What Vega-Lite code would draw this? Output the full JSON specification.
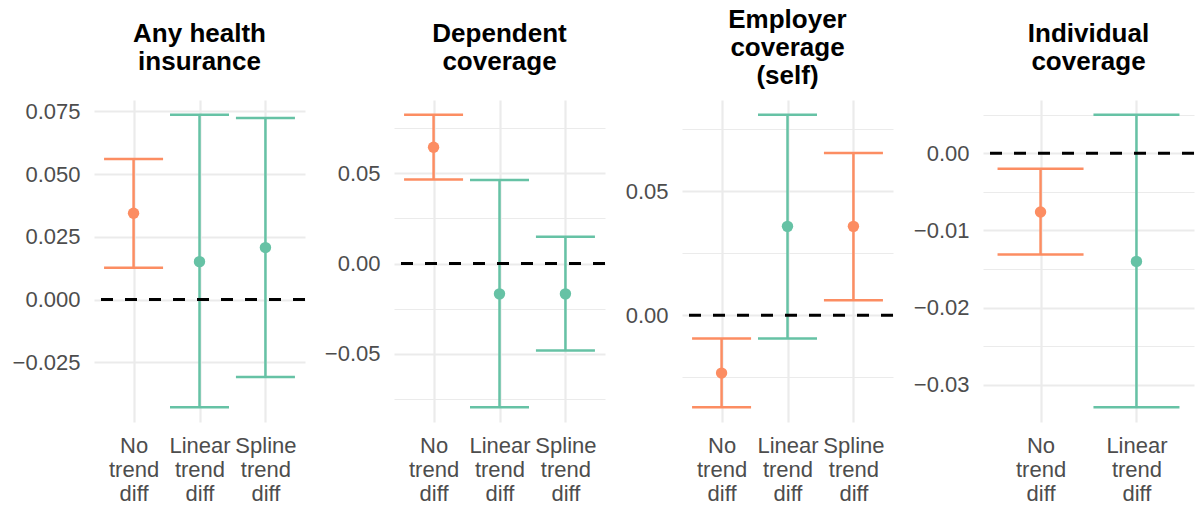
{
  "$schema": "https://vega.github.io/schema/vega-lite/v6.json",
  "background": "white",
  "padding": {"left": 8, "top": 7, "right": 5, "bottom": 0},
  "datasets": {
    "est": [
      {"outcome": "any", "model": "No trend diff", "est": 0.0344, "lo": 0.0127, "hi": 0.0560, "sig": "Significant"},
      {"outcome": "any", "model": "Linear trend diff", "est": 0.0151, "lo": -0.0430, "hi": 0.0737, "sig": "Not significant"},
      {"outcome": "any", "model": "Spline trend diff", "est": 0.0207, "lo": -0.0309, "hi": 0.0724, "sig": "Not significant"},
      {"outcome": "dep", "model": "No trend diff", "est": 0.0644, "lo": 0.0465, "hi": 0.0825, "sig": "Significant"},
      {"outcome": "dep", "model": "Linear trend diff", "est": -0.0168, "lo": -0.0797, "hi": 0.0463, "sig": "Not significant"},
      {"outcome": "dep", "model": "Spline trend diff", "est": -0.0168, "lo": -0.0482, "hi": 0.0148, "sig": "Not significant"},
      {"outcome": "emp", "model": "No trend diff", "est": -0.0233, "lo": -0.0371, "hi": -0.0094, "sig": "Significant"},
      {"outcome": "emp", "model": "Linear trend diff", "est": 0.0358, "lo": -0.0094, "hi": 0.0808, "sig": "Not significant"},
      {"outcome": "emp", "model": "Spline trend diff", "est": 0.0358, "lo": 0.0060, "hi": 0.0654, "sig": "Significant"},
      {"outcome": "ind", "model": "No trend diff", "est": -0.0076, "lo": -0.0131, "hi": -0.0020, "sig": "Significant"},
      {"outcome": "ind", "model": "Linear trend diff", "est": -0.0140, "lo": -0.0329, "hi": 0.0050, "sig": "Not significant"}
    ]
  },
  "data": {"name": "est"},
  "spacing": 15,
  "hconcat": [
    {
      "width": 211, "height": 322,
      "title": {"text": ["\u200b", "Any health", "\u200b", "insurance", "\u200b"], "lineHeight": 14},
      "transform": [{"filter": "datum.outcome === 'any'"}],
      "layer": [
        {
          "mark": {"type": "rule", "strokeWidth": 2.5},
          "encoding": {
            "x": {"field": "model", "type": "nominal", "title": null, "scale": {"type": "point", "padding": 0.6, "domain": ["No trend diff", "Linear trend diff", "Spline trend diff"]}, "axis": {"labelExpr": "split(datum.label, ' ')", "labelAngle": 0, "labelLineHeight": 24, "labelPadding": 13, "grid": true, "gridWidth": 2.2}},
            "y": {"field": "lo", "type": "quantitative", "title": null, "scale": {"domain": [-0.04884, 0.07954], "nice": false, "zero": false}, "axis": {"values": [-0.025, 0, 0.025, 0.05, 0.075], "format": ".3f", "labelOverlap": false, "gridWidth": 2.2, "labelPadding": 14, "minExtent": 86, "maxExtent": 86}},
            "y2": {"field": "hi"},
            "color": {"field": "sig", "type": "nominal", "scale": {"domain": ["Significant", "Not significant"], "range": ["#FC8D62", "#66C2A5"]}, "legend": null}
          }
        },
        {
          "mark": {"type": "tick", "thickness": 2.5, "size": 59, "opacity": 1},
          "encoding": {
            "x": {"field": "model", "type": "nominal", "title": null},
            "y": {"field": "lo", "type": "quantitative", "title": null},
            "color": {"field": "sig", "type": "nominal", "legend": null}
          }
        },
        {
          "mark": {"type": "tick", "thickness": 2.5, "size": 59, "opacity": 1},
          "encoding": {
            "x": {"field": "model", "type": "nominal", "title": null},
            "y": {"field": "hi", "type": "quantitative", "title": null},
            "color": {"field": "sig", "type": "nominal", "legend": null}
          }
        },
        {
          "mark": {"type": "point", "filled": true, "size": 130, "opacity": 1},
          "encoding": {
            "x": {"field": "model", "type": "nominal", "title": null},
            "y": {"field": "est", "type": "quantitative", "title": null},
            "color": {"field": "sig", "type": "nominal", "legend": null}
          }
        },
        {
          "data": {"values": [{}]},
          "mark": {"type": "rule", "strokeDash": [12, 12], "strokeWidth": 3, "color": "#000000"},
          "encoding": {"y": {"datum": 0}}
        }
      ]
    },
    {
      "width": 211, "height": 322,
      "title": {"text": ["\u200b", "Dependent", "\u200b", "coverage", "\u200b"], "lineHeight": 14},
      "transform": [{"filter": "datum.outcome === 'dep'"}],
      "layer": [
        {
          "mark": {"type": "rule", "strokeWidth": 2.5},
          "encoding": {
            "x": {"field": "model", "type": "nominal", "title": null, "scale": {"type": "point", "padding": 0.6, "domain": ["No trend diff", "Linear trend diff", "Spline trend diff"]}, "axis": {"labelExpr": "split(datum.label, ' ')", "labelAngle": 0, "labelLineHeight": 24, "labelPadding": 13, "grid": true, "gridWidth": 2.2}},
            "y": {"field": "lo", "type": "quantitative", "title": null, "scale": {"domain": [-0.08781, 0.09061], "nice": false, "zero": false}, "axis": {"values": [-0.075, -0.05, -0.025, 0, 0.025, 0.05, 0.075], "format": ".2f", "labelOverlap": false, "labelExpr": "round(datum.value*10000) % 500 == 0 ? datum.label : ''", "gridWidth": {"condition": {"test": "round(datum.value*10000) % 500 != 0", "value": 1.1}, "value": 2.2}, "labelPadding": 14, "minExtent": 72, "maxExtent": 72}},
            "y2": {"field": "hi"},
            "color": {"field": "sig", "type": "nominal", "scale": {"domain": ["Significant", "Not significant"], "range": ["#FC8D62", "#66C2A5"]}, "legend": null}
          }
        },
        {
          "mark": {"type": "tick", "thickness": 2.5, "size": 59, "opacity": 1},
          "encoding": {
            "x": {"field": "model", "type": "nominal", "title": null},
            "y": {"field": "lo", "type": "quantitative", "title": null},
            "color": {"field": "sig", "type": "nominal", "legend": null}
          }
        },
        {
          "mark": {"type": "tick", "thickness": 2.5, "size": 59, "opacity": 1},
          "encoding": {
            "x": {"field": "model", "type": "nominal", "title": null},
            "y": {"field": "hi", "type": "quantitative", "title": null},
            "color": {"field": "sig", "type": "nominal", "legend": null}
          }
        },
        {
          "mark": {"type": "point", "filled": true, "size": 130, "opacity": 1},
          "encoding": {
            "x": {"field": "model", "type": "nominal", "title": null},
            "y": {"field": "est", "type": "quantitative", "title": null},
            "color": {"field": "sig", "type": "nominal", "legend": null}
          }
        },
        {
          "data": {"values": [{}]},
          "mark": {"type": "rule", "strokeDash": [12, 12], "strokeWidth": 3, "color": "#000000"},
          "encoding": {"y": {"datum": 0}}
        }
      ]
    },
    {
      "width": 211, "height": 322,
      "title": {"text": ["Employer", "coverage", "(self)"], "lineHeight": 28},
      "transform": [{"filter": "datum.outcome === 'emp'"}],
      "layer": [
        {
          "mark": {"type": "rule", "strokeWidth": 2.5},
          "encoding": {
            "x": {"field": "model", "type": "nominal", "title": null, "scale": {"type": "point", "padding": 0.6, "domain": ["No trend diff", "Linear trend diff", "Spline trend diff"]}, "axis": {"labelExpr": "split(datum.label, ' ')", "labelAngle": 0, "labelLineHeight": 24, "labelPadding": 13, "grid": true, "gridWidth": 2.2}},
            "y": {"field": "lo", "type": "quantitative", "title": null, "scale": {"domain": [-0.0430, 0.0867], "nice": false, "zero": false}, "axis": {"values": [-0.025, 0, 0.025, 0.05, 0.075], "format": ".2f", "labelOverlap": false, "labelExpr": "round(datum.value*10000) % 500 == 0 ? datum.label : ''", "gridWidth": {"condition": {"test": "round(datum.value*10000) % 500 != 0", "value": 1.1}, "value": 2.2}, "labelPadding": 14, "minExtent": 60, "maxExtent": 60}},
            "y2": {"field": "hi"},
            "color": {"field": "sig", "type": "nominal", "scale": {"domain": ["Significant", "Not significant"], "range": ["#FC8D62", "#66C2A5"]}, "legend": null}
          }
        },
        {
          "mark": {"type": "tick", "thickness": 2.5, "size": 59, "opacity": 1},
          "encoding": {
            "x": {"field": "model", "type": "nominal", "title": null},
            "y": {"field": "lo", "type": "quantitative", "title": null},
            "color": {"field": "sig", "type": "nominal", "legend": null}
          }
        },
        {
          "mark": {"type": "tick", "thickness": 2.5, "size": 59, "opacity": 1},
          "encoding": {
            "x": {"field": "model", "type": "nominal", "title": null},
            "y": {"field": "hi", "type": "quantitative", "title": null},
            "color": {"field": "sig", "type": "nominal", "legend": null}
          }
        },
        {
          "mark": {"type": "point", "filled": true, "size": 130, "opacity": 1},
          "encoding": {
            "x": {"field": "model", "type": "nominal", "title": null},
            "y": {"field": "est", "type": "quantitative", "title": null},
            "color": {"field": "sig", "type": "nominal", "legend": null}
          }
        },
        {
          "data": {"values": [{}]},
          "mark": {"type": "rule", "strokeDash": [12, 12], "strokeWidth": 3, "color": "#000000"},
          "encoding": {"y": {"datum": 0}}
        }
      ]
    },
    {
      "width": 211, "height": 322,
      "title": {"text": ["\u200b", "Individual", "\u200b", "coverage", "\u200b"], "lineHeight": 14},
      "transform": [{"filter": "datum.outcome === 'ind'"}],
      "layer": [
        {
          "mark": {"type": "rule", "strokeWidth": 2.5},
          "encoding": {
            "x": {"field": "model", "type": "nominal", "title": null, "scale": {"type": "point", "padding": 0.6, "domain": ["No trend diff", "Linear trend diff"]}, "axis": {"labelExpr": "split(datum.label, ' ')", "labelAngle": 0, "labelLineHeight": 24, "labelPadding": 13, "grid": true, "gridWidth": 2.2}},
            "y": {"field": "lo", "type": "quantitative", "title": null, "scale": {"domain": [-0.0348, 0.0069], "nice": false, "zero": false}, "axis": {"values": [-0.03, -0.025, -0.02, -0.015, -0.01, -0.005, 0, 0.005], "format": ".2f", "labelOverlap": false, "labelExpr": "round(datum.value*10000) % 100 == 0 ? datum.label : ''", "gridWidth": {"condition": {"test": "round(datum.value*10000) % 100 != 0", "value": 1.1}, "value": 2.2}, "labelPadding": 14, "minExtent": 73, "maxExtent": 73}},
            "y2": {"field": "hi"},
            "color": {"field": "sig", "type": "nominal", "scale": {"domain": ["Significant", "Not significant"], "range": ["#FC8D62", "#66C2A5"]}, "legend": null}
          }
        },
        {
          "mark": {"type": "tick", "thickness": 2.5, "size": 86, "opacity": 1},
          "encoding": {
            "x": {"field": "model", "type": "nominal", "title": null},
            "y": {"field": "lo", "type": "quantitative", "title": null},
            "color": {"field": "sig", "type": "nominal", "legend": null}
          }
        },
        {
          "mark": {"type": "tick", "thickness": 2.5, "size": 86, "opacity": 1},
          "encoding": {
            "x": {"field": "model", "type": "nominal", "title": null},
            "y": {"field": "hi", "type": "quantitative", "title": null},
            "color": {"field": "sig", "type": "nominal", "legend": null}
          }
        },
        {
          "mark": {"type": "point", "filled": true, "size": 130, "opacity": 1},
          "encoding": {
            "x": {"field": "model", "type": "nominal", "title": null},
            "y": {"field": "est", "type": "quantitative", "title": null},
            "color": {"field": "sig", "type": "nominal", "legend": null}
          }
        },
        {
          "data": {"values": [{}]},
          "mark": {"type": "rule", "strokeDash": [12, 12], "strokeWidth": 3, "color": "#000000"},
          "encoding": {"y": {"datum": 0}}
        }
      ]
    }
  ],
  "config": {
    "view": {"stroke": null},
    "font": "Liberation Sans",
    "title": {"font": "Liberation Sans", "fontSize": 26, "fontWeight": "bold", "color": "#000000", "offset": 11, "anchor": "middle", "frame": "group"},
    "axis": {"labelFont": "Liberation Sans", "labelFontSize": 22, "labelColor": "#4D4D4D", "domain": false, "ticks": false, "tickSize": 0, "gridColor": "#EBEBEB", "title": null}
  }
}
